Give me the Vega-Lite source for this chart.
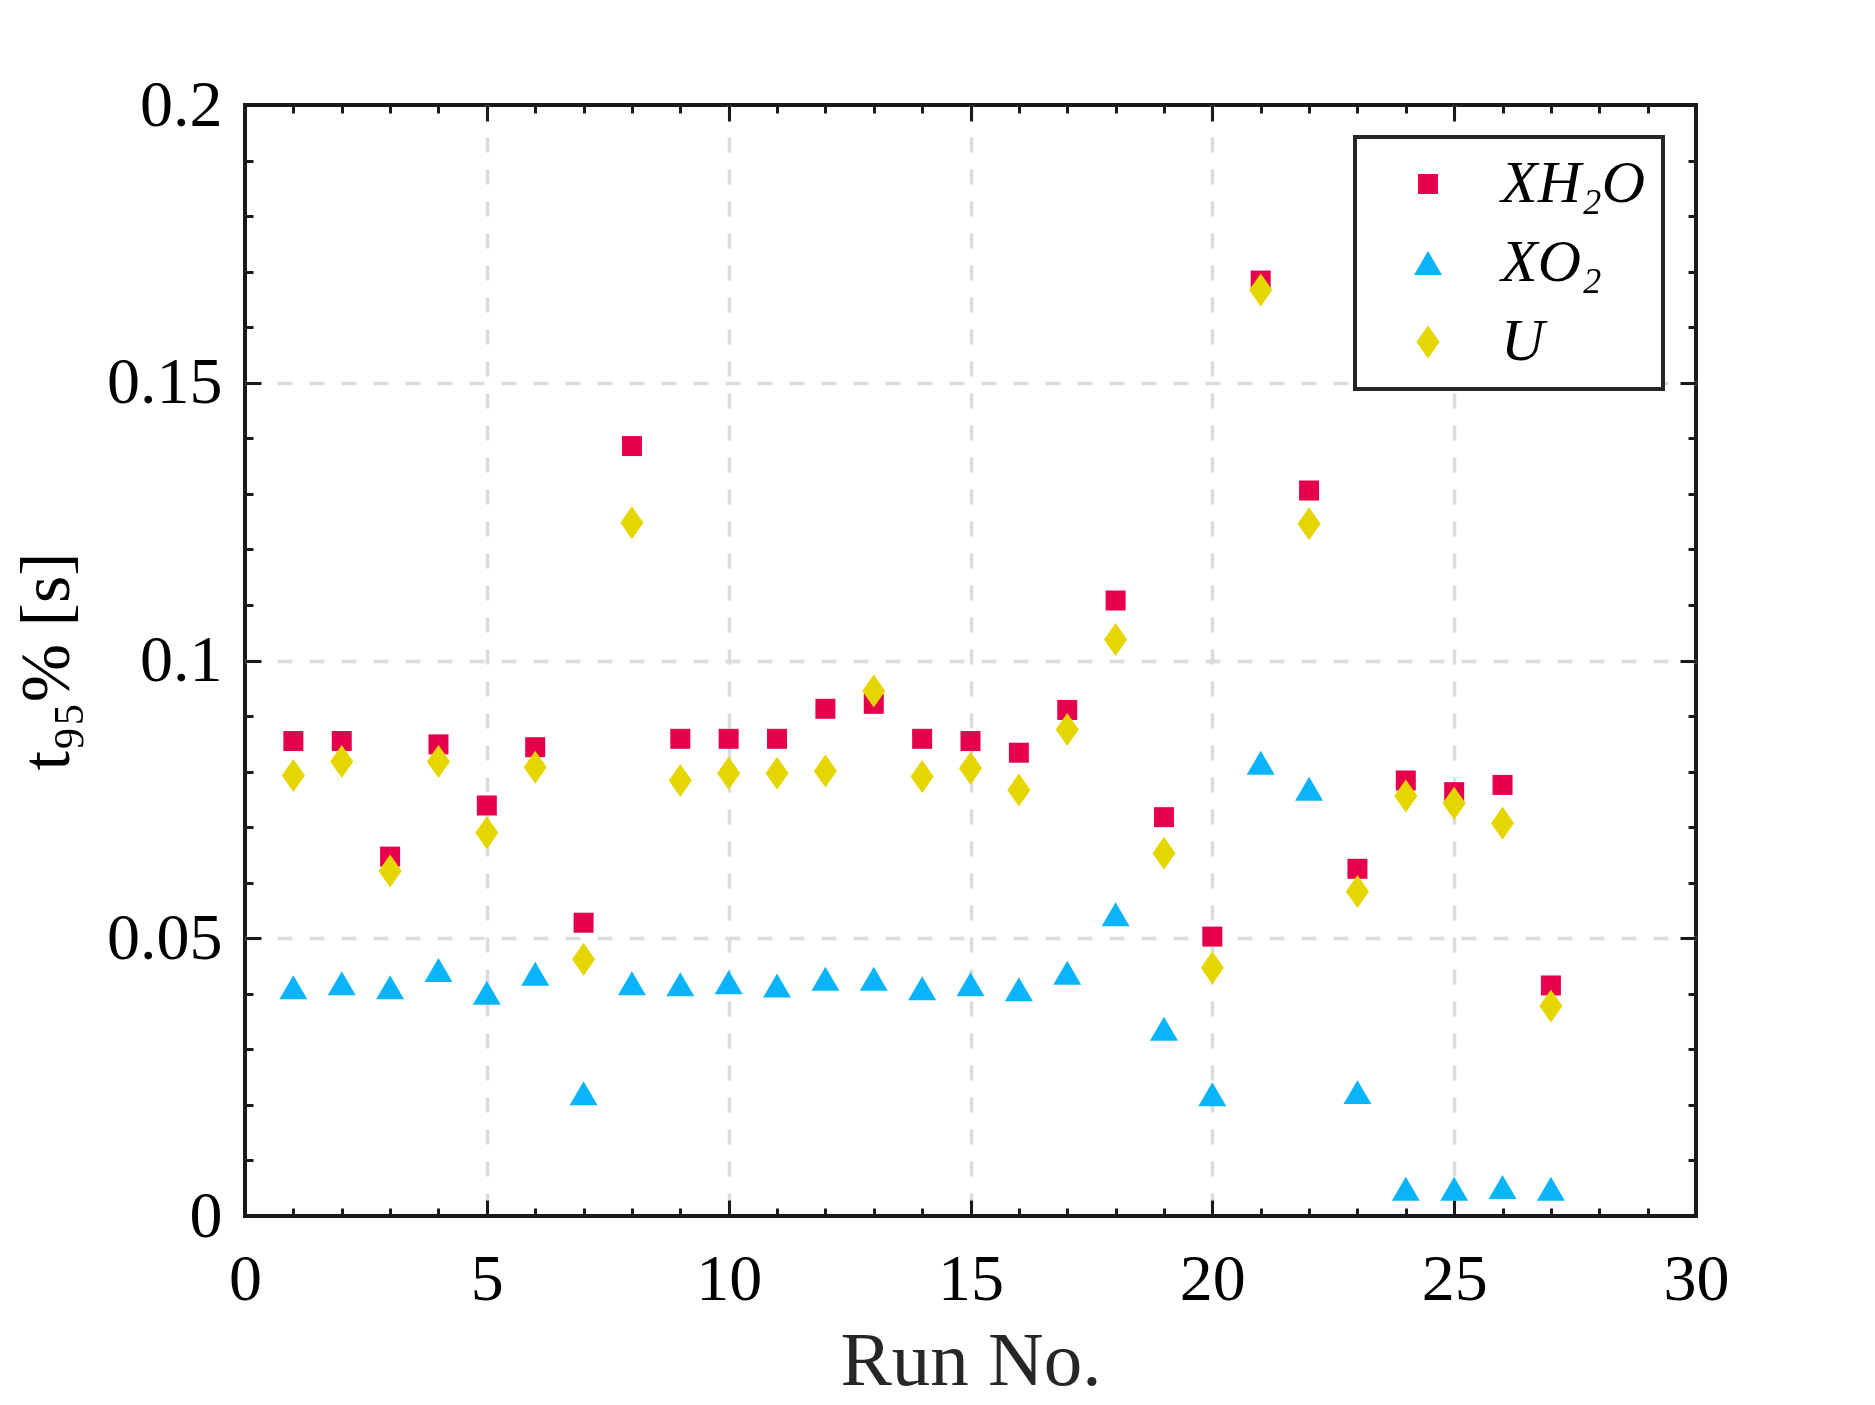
{
  "$schema": "https://vega.github.io/schema/vega-lite/v6.json",
  "width": 1451,
  "height": 1111,
  "autosize": "none",
  "padding": {"left": 245, "top": 105, "right": 179, "bottom": 189},
  "background": "white",
  "config": {
    "view": {"stroke": "#1a1a1a", "strokeWidth": 4},
    "font": "Liberation Serif",
    "axis": {
      "labelFont": "Liberation Serif",
      "titleFont": "Liberation Serif",
      "labelColor": "#000000",
      "tickColor": "#1a1a1a",
      "tickWidth": 3,
      "domain": false,
      "labelFlush": false,
      "labelOverlap": false,
      "labelBound": false
    },
    "legend": {
      "labelFont": "Liberation Serif",
      "strokeWidth": 4
    }
  },
  "data": {
    "values": [
      {"run": 1, "series": "XH₂O", "t": 0.0855},
      {"run": 2, "series": "XH₂O", "t": 0.0855},
      {"run": 3, "series": "XH₂O", "t": 0.0647},
      {"run": 4, "series": "XH₂O", "t": 0.0849},
      {"run": 5, "series": "XH₂O", "t": 0.0739},
      {"run": 6, "series": "XH₂O", "t": 0.0844},
      {"run": 7, "series": "XH₂O", "t": 0.0528},
      {"run": 8, "series": "XH₂O", "t": 0.1386},
      {"run": 9, "series": "XH₂O", "t": 0.0859},
      {"run": 10, "series": "XH₂O", "t": 0.0859},
      {"run": 11, "series": "XH₂O", "t": 0.0859},
      {"run": 12, "series": "XH₂O", "t": 0.0913},
      {"run": 13, "series": "XH₂O", "t": 0.0922},
      {"run": 14, "series": "XH₂O", "t": 0.0859},
      {"run": 15, "series": "XH₂O", "t": 0.0855},
      {"run": 16, "series": "XH₂O", "t": 0.0834},
      {"run": 17, "series": "XH₂O", "t": 0.0911},
      {"run": 18, "series": "XH₂O", "t": 0.1108},
      {"run": 19, "series": "XH₂O", "t": 0.0718},
      {"run": 20, "series": "XH₂O", "t": 0.0503},
      {"run": 21, "series": "XH₂O", "t": 0.1684},
      {"run": 22, "series": "XH₂O", "t": 0.1306},
      {"run": 23, "series": "XH₂O", "t": 0.0625},
      {"run": 24, "series": "XH₂O", "t": 0.0784},
      {"run": 25, "series": "XH₂O", "t": 0.0763},
      {"run": 26, "series": "XH₂O", "t": 0.0776},
      {"run": 27, "series": "XH₂O", "t": 0.0415},
      {"run": 1, "series": "XO₂", "t": 0.0412},
      {"run": 2, "series": "XO₂", "t": 0.0419},
      {"run": 3, "series": "XO₂", "t": 0.0412},
      {"run": 4, "series": "XO₂", "t": 0.0443},
      {"run": 5, "series": "XO₂", "t": 0.0402},
      {"run": 6, "series": "XO₂", "t": 0.0436},
      {"run": 7, "series": "XO₂", "t": 0.0221},
      {"run": 8, "series": "XO₂", "t": 0.0419},
      {"run": 9, "series": "XO₂", "t": 0.0417},
      {"run": 10, "series": "XO₂", "t": 0.0421},
      {"run": 11, "series": "XO₂", "t": 0.0415},
      {"run": 12, "series": "XO₂", "t": 0.0427},
      {"run": 13, "series": "XO₂", "t": 0.0427},
      {"run": 14, "series": "XO₂", "t": 0.0410},
      {"run": 15, "series": "XO₂", "t": 0.0417},
      {"run": 16, "series": "XO₂", "t": 0.0408},
      {"run": 17, "series": "XO₂", "t": 0.0438},
      {"run": 18, "series": "XO₂", "t": 0.0543},
      {"run": 19, "series": "XO₂", "t": 0.0337},
      {"run": 20, "series": "XO₂", "t": 0.0219},
      {"run": 21, "series": "XO₂", "t": 0.0816},
      {"run": 22, "series": "XO₂", "t": 0.0769},
      {"run": 23, "series": "XO₂", "t": 0.0223},
      {"run": 24, "series": "XO₂", "t": 0.0049},
      {"run": 25, "series": "XO₂", "t": 0.0049},
      {"run": 26, "series": "XO₂", "t": 0.0052},
      {"run": 27, "series": "XO₂", "t": 0.0049},
      {"run": 1, "series": "U", "t": 0.0793},
      {"run": 2, "series": "U", "t": 0.0818},
      {"run": 3, "series": "U", "t": 0.0621},
      {"run": 4, "series": "U", "t": 0.0818},
      {"run": 5, "series": "U", "t": 0.0690},
      {"run": 6, "series": "U", "t": 0.0808},
      {"run": 7, "series": "U", "t": 0.0462},
      {"run": 8, "series": "U", "t": 0.1248},
      {"run": 9, "series": "U", "t": 0.0784},
      {"run": 10, "series": "U", "t": 0.0797},
      {"run": 11, "series": "U", "t": 0.0797},
      {"run": 12, "series": "U", "t": 0.0801},
      {"run": 13, "series": "U", "t": 0.0945},
      {"run": 14, "series": "U", "t": 0.0791},
      {"run": 15, "series": "U", "t": 0.0806},
      {"run": 16, "series": "U", "t": 0.0767},
      {"run": 17, "series": "U", "t": 0.0876},
      {"run": 18, "series": "U", "t": 0.1038},
      {"run": 19, "series": "U", "t": 0.0653},
      {"run": 20, "series": "U", "t": 0.0447},
      {"run": 21, "series": "U", "t": 0.1667},
      {"run": 22, "series": "U", "t": 0.1246},
      {"run": 23, "series": "U", "t": 0.0584},
      {"run": 24, "series": "U", "t": 0.0756},
      {"run": 25, "series": "U", "t": 0.0743},
      {"run": 26, "series": "U", "t": 0.0707},
      {"run": 27, "series": "U", "t": 0.0378}
    ]
  },
  "layer": [
    {
      "mark": {"type": "point", "filled": true, "size": 1089, "opacity": 1, "strokeWidth": 0},
      "encoding": {
        "x": {
          "field": "run", "type": "quantitative",
          "scale": {"domain": [0, 30], "nice": false, "zero": false},
          "axis": {
            "orient": "bottom",
            "values": [0, 5, 10, 15, 20, 25, 30],
            "tickSize": -16,
            "labelPadding": 47,
            "labelFontSize": 66,
            "grid": true,
            "gridColor": "#dcdcdc",
            "gridWidth": 3.5,
            "gridDash": [15, 17],
            "gridOpacity": {"condition": {"test": "datum.value <= 0 || datum.value >= 30", "value": 0}, "value": 1},
            "title": "Run No.",
            "titleFontSize": 77,
            "titleFontWeight": "normal",
            "titleColor": "#262626",
            "titleX": 725.5,
            "titleY": 168,
            "titleAlign": "center",
            "titleBaseline": "alphabetic"
          }
        },
        "y": {
          "field": "t", "type": "quantitative",
          "scale": {"domain": [0, 0.2], "nice": false, "zero": false},
          "axis": {
            "orient": "left",
            "values": [0, 0.05, 0.1, 0.15, 0.2],
            "format": "~g",
            "tickSize": -16,
            "labelPadding": 39,
            "labelFontSize": 66,
            "grid": true,
            "gridColor": "#dcdcdc",
            "gridWidth": 3.5,
            "gridDash": [15, 17],
            "gridOpacity": {"condition": {"test": "datum.value <= 0 || datum.value >= 0.2", "value": 0}, "value": 1},
            "title": "t₉₅% [s]",
            "titleFontSize": 70,
            "titleFontWeight": "normal",
            "titleColor": "#000000",
            "titleAngle": -90,
            "titleX": -177,
            "titleY": 556,
            "titleAlign": "center",
            "titleBaseline": "alphabetic"
          }
        },
        "color": {
          "field": "series", "type": "nominal",
          "scale": {"domain": ["XH₂O", "XO₂", "U"], "range": ["#E6004C", "#0AB4FA", "#E6D600"]},
          "legend": {
            "title": null,
            "orient": "none",
            "legendX": 1110,
            "legendY": 32,
            "padding": 17,
            "strokeColor": "#262626",
            "fillColor": "#ffffff",
            "symbolSize": 1089,
            "symbolOffset": 26,
            "symbolStrokeWidth": 0,
            "labelOffset": 43,
            "labelFontSize": 60,
            "labelFontStyle": "italic",
            "labelColor": "#000000",
            "rowPadding": 19,
            "labelLimit": 400
          }
        },
        "shape": {
          "field": "series", "type": "nominal",
          "scale": {"domain": ["XH₂O", "XO₂", "U"], "range": ["M-0.606,-0.606H0.606V0.606H-0.606Z", "M0,-0.727L0.848,0.727L-0.848,0.727Z", "M0,-1L0.7,0L0,1L-0.7,0Z"]},
          "legend": {
            "title": null,
            "orient": "none",
            "legendX": 1110,
            "legendY": 32,
            "padding": 17,
            "strokeColor": "#262626",
            "fillColor": "#ffffff",
            "symbolSize": 1089,
            "symbolOffset": 26,
            "symbolStrokeWidth": 0,
            "labelOffset": 43,
            "labelFontSize": 60,
            "labelFontStyle": "italic",
            "labelColor": "#000000",
            "rowPadding": 19,
            "labelLimit": 400
          }
        }
      }
    },
    {
      "mark": {"type": "point", "opacity": 0},
      "encoding": {
        "x": {
          "field": "run", "type": "quantitative",
          "axis": {"orient": "bottom", "values": [0,1,2,3,4,5,6,7,8,9,10,11,12,13,14,15,16,17,18,19,20,21,22,23,24,25,26,27,28,29,30], "tickSize": -8, "labels": false, "grid": false, "title": null}
        },
        "y": {
          "field": "t", "type": "quantitative",
          "axis": {"orient": "left", "values": [0,0.01,0.02,0.03,0.04,0.05,0.06,0.07,0.08,0.09,0.1,0.11,0.12,0.13,0.14,0.15,0.16,0.17,0.18,0.19,0.2], "tickSize": -8, "labels": false, "grid": false, "title": null}
        }
      }
    },
    {
      "mark": {"type": "point", "opacity": 0},
      "encoding": {
        "x": {
          "field": "run", "type": "quantitative",
          "axis": {"orient": "top", "values": [0, 5, 10, 15, 20, 25, 30], "tickSize": -16, "labels": false, "grid": false, "title": null}
        },
        "y": {
          "field": "t", "type": "quantitative",
          "axis": {"orient": "right", "values": [0, 0.05, 0.1, 0.15, 0.2], "tickSize": -16, "labels": false, "grid": false, "title": null}
        }
      }
    },
    {
      "mark": {"type": "point", "opacity": 0},
      "encoding": {
        "x": {
          "field": "run", "type": "quantitative",
          "axis": {"orient": "top", "values": [0,1,2,3,4,5,6,7,8,9,10,11,12,13,14,15,16,17,18,19,20,21,22,23,24,25,26,27,28,29,30], "tickSize": -8, "labels": false, "grid": false, "title": null}
        },
        "y": {
          "field": "t", "type": "quantitative",
          "axis": {"orient": "right", "values": [0,0.01,0.02,0.03,0.04,0.05,0.06,0.07,0.08,0.09,0.1,0.11,0.12,0.13,0.14,0.15,0.16,0.17,0.18,0.19,0.2], "tickSize": -8, "labels": false, "grid": false, "title": null}
        }
      }
    }
  ],
  "resolve": {"axis": {"x": "independent", "y": "independent"}}
}
